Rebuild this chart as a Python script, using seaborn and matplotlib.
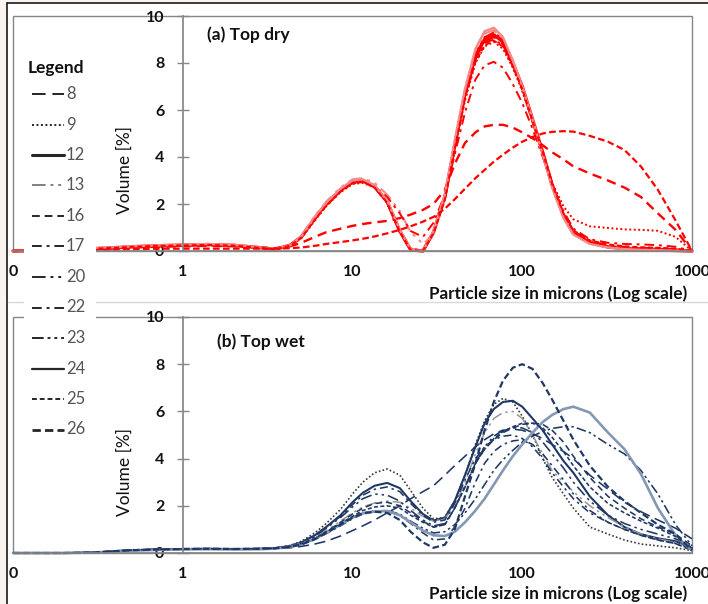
import numpy as np
import pandas as pd
import seaborn as sns
import matplotlib.pyplot as plt
from matplotlib.lines import Line2D
from matplotlib.patches import Rectangle
from matplotlib.ticker import FixedLocator, LogLocator, NullFormatter

# particle size grid (microns) shared by all curves
size_um = [0.1, 0.15, 0.2, 0.3, 0.4, 0.5, 0.7, 1, 1.4, 2,
           2.8, 3.5, 4.3, 5, 6, 7, 8.5, 10, 11.5, 13.5,
           16, 19, 22, 26, 30, 35, 40, 46, 53, 60,
           68, 77, 88, 100, 115, 132, 150, 175, 200, 250,
           320, 400, 500, 630, 800, 1000]

samples = ['8', '9', '12', '13', '16', '17', '20', '22', '23', '24', '25', '26']

# (a) Top dry - volume [%]
dry_8 = [0, 0.02, 0.05, 0.1, 0.15, 0.19, 0.23, 0.26, 0.28, 0.25,
         0.15, 0.07, 0.24, 0.58, 1.35, 1.95, 2.55, 2.9, 2.95, 2.7,
         2.05, 0.8, 0.05, 0, 0.75, 2.2, 4.4, 6.6, 8.2, 8.9,
         9.1, 8.8, 7.9, 6.9, 5.5, 4.1, 2.75, 1.5, 0.8, 0.4,
         0.22, 0.15, 0.12, 0.1, 0.07, 0]
dry_9 = [0, 0.02, 0.05, 0.1, 0.14, 0.17, 0.21, 0.24, 0.26, 0.23,
         0.14, 0.07, 0.22, 0.55, 1.3, 1.9, 2.5, 2.85, 2.9, 2.7,
         2.05, 0.85, 0.1, 0.02, 0.8, 2.2, 4.3, 6.4, 8.0, 8.7,
         8.9, 8.6, 7.8, 6.8, 5.5, 4.2, 2.9, 1.9, 1.35, 1.05,
         0.98, 0.92, 0.9, 0.86, 0.6, 0]
dry_12 = [0, 0.02, 0.05, 0.1, 0.14, 0.18, 0.22, 0.25, 0.27, 0.24,
          0.15, 0.07, 0.25, 0.6, 1.4, 2.0, 2.6, 2.95, 3.0, 2.75,
          2.1, 0.85, 0.05, 0, 0.8, 2.3, 4.5, 6.7, 8.3, 9.0,
          9.2, 8.9, 8.0, 7.0, 5.6, 4.2, 2.8, 1.5, 0.75, 0.35,
          0.17, 0.1, 0.06, 0.04, 0.02, 0]
dry_13 = [0, 0.03, 0.06, 0.12, 0.17, 0.21, 0.25, 0.28, 0.3, 0.27,
          0.17, 0.08, 0.26, 0.65, 1.5, 2.1, 2.7, 3.05, 3.1, 2.9,
          2.4, 1.7, 0.8, 0.3, 0.7, 2.2, 4.5, 6.8, 8.5, 9.25,
          9.4, 9.0, 8.1, 7.0, 5.6, 4.2, 2.8, 1.5, 0.8, 0.4,
          0.2, 0.12, 0.08, 0.05, 0.03, 0]
dry_16 = [0, 0.02, 0.04, 0.08, 0.12, 0.15, 0.18, 0.2, 0.22, 0.2,
          0.15, 0.12, 0.2, 0.35, 0.6, 0.8, 0.95, 1.07, 1.15, 1.22,
          1.28, 1.4, 1.55, 1.75, 2.0, 2.6, 3.7, 4.6, 5.05, 5.3,
          5.37, 5.37, 5.25, 5.05, 4.8, 4.5, 4.2, 3.9, 3.6, 3.3,
          3.0, 2.7, 2.3, 1.6, 0.9, 0]
dry_17 = [0, 0.02, 0.04, 0.08, 0.12, 0.16, 0.2, 0.23, 0.25, 0.22,
          0.14, 0.08, 0.25, 0.6, 1.35, 1.95, 2.55, 2.9, 2.95, 2.75,
          2.3, 1.6, 0.85, 0.6, 1.2, 2.4, 4.1, 5.9, 7.3, 7.9,
          8.05, 7.8, 7.1, 6.3, 5.2, 4.0, 2.8, 1.7, 0.95, 0.5,
          0.35, 0.3, 0.28, 0.25, 0.18, 0]
dry_20 = [0, 0.02, 0.05, 0.11, 0.15, 0.19, 0.23, 0.26, 0.28, 0.25,
          0.15, 0.07, 0.26, 0.62, 1.42, 2.02, 2.62, 2.97, 3.02, 2.78,
          2.12, 0.88, 0.06, 0, 0.82, 2.32, 4.55, 6.75, 8.35, 9.05,
          9.25, 8.95, 8.05, 7.0, 5.6, 4.2, 2.8, 1.5, 0.78, 0.38,
          0.2, 0.12, 0.08, 0.06, 0.04, 0]
dry_22 = [0, 0.02, 0.05, 0.1, 0.14, 0.18, 0.22, 0.25, 0.27, 0.24,
          0.15, 0.08, 0.24, 0.6, 1.38, 1.98, 2.58, 2.92, 2.98, 2.74,
          2.1, 0.9, 0.1, 0.02, 0.78, 2.25, 4.4, 6.6, 8.15, 8.85,
          9.0, 8.75, 7.9, 6.95, 5.6, 4.25, 2.9, 1.6, 0.85, 0.42,
          0.25, 0.18, 0.14, 0.12, 0.08, 0]
dry_23 = [0, 0.02, 0.05, 0.1, 0.15, 0.19, 0.23, 0.26, 0.28, 0.25,
          0.16, 0.08, 0.25, 0.62, 1.42, 2.0, 2.6, 2.96, 3.0, 2.76,
          2.1, 0.86, 0.06, 0, 0.8, 2.3, 4.55, 6.8, 8.4, 9.1,
          9.3, 9.0, 8.05, 7.0, 5.55, 4.15, 2.75, 1.45, 0.72, 0.33,
          0.16, 0.1, 0.06, 0.04, 0.02, 0]
dry_24 = [0, 0.02, 0.06, 0.12, 0.16, 0.2, 0.24, 0.27, 0.3, 0.26,
          0.16, 0.08, 0.25, 0.62, 1.45, 2.05, 2.65, 3.0, 3.05, 2.8,
          2.15, 0.9, 0.08, 0, 0.85, 2.4, 4.7, 6.9, 8.6, 9.35,
          9.5, 9.1, 8.1, 7.0, 5.6, 4.1, 2.7, 1.4, 0.7, 0.3,
          0.15, 0.08, 0.05, 0.03, 0.02, 0]
dry_25 = [0, 0.02, 0.05, 0.1, 0.14, 0.18, 0.22, 0.24, 0.26, 0.23,
          0.14, 0.07, 0.23, 0.57, 1.33, 1.92, 2.52, 2.88, 2.93, 2.7,
          2.05, 0.82, 0.05, 0, 0.76, 2.2, 4.35, 6.5, 8.05, 8.75,
          8.95, 8.7, 7.85, 6.9, 5.55, 4.2, 2.85, 1.6, 0.88, 0.45,
          0.28, 0.2, 0.16, 0.14, 0.1, 0]
dry_26 = [0, 0.01, 0.02, 0.04, 0.06, 0.08, 0.1, 0.1, 0.1, 0.1,
          0.1, 0.1, 0.12, 0.15, 0.22, 0.3, 0.38, 0.45, 0.52, 0.62,
          0.75, 0.9, 1.05, 1.25, 1.45, 1.8, 2.2, 2.65, 3.1, 3.45,
          3.8, 4.1, 4.4, 4.65, 4.85, 5.0, 5.07, 5.1, 5.08, 4.9,
          4.65, 4.3, 3.6, 2.6, 1.3, 0]

# (b) Top wet - volume [%]
wet_8 = [0, 0, 0, 0.02, 0.08, 0.12, 0.15, 0.17, 0.18, 0.17,
         0.17, 0.18, 0.22, 0.28, 0.38, 0.5, 0.72, 0.95, 1.15, 1.4,
         1.7, 2.0, 2.3, 2.6, 2.85, 3.3, 3.7, 4.1, 4.5, 4.8,
         5.05, 5.2, 5.25, 5.2, 5.05, 4.85, 4.6, 4.3, 4.0, 3.3,
         2.7, 2.15, 1.75, 1.4, 1.05, 0.6]
wet_9 = [0, 0, 0, 0.02, 0.08, 0.12, 0.15, 0.17, 0.18, 0.17,
         0.18, 0.22, 0.32, 0.5, 0.85, 1.25, 1.85, 2.5, 3.0, 3.4,
         3.56, 3.3, 2.65, 1.9, 1.45, 1.5, 2.2, 3.3, 4.6, 5.6,
         6.3, 6.55, 6.4, 5.8, 5.0, 4.0, 3.2, 2.5, 1.9, 1.1,
         0.8, 0.55, 0.38, 0.3, 0.22, 0.1]
wet_12 = [0, 0, 0, 0.02, 0.08, 0.12, 0.15, 0.17, 0.18, 0.17,
          0.18, 0.21, 0.3, 0.45, 0.75, 1.1, 1.6, 2.15, 2.55, 2.85,
          2.97, 2.75, 2.2, 1.65, 1.38, 1.5, 2.2, 3.3, 4.5, 5.5,
          6.1, 6.4, 6.45, 6.2, 5.7, 5.2, 4.6, 3.9, 3.4, 2.4,
          1.6, 1.1, 0.8, 0.62, 0.5, 0.2]
wet_13 = [0, 0, 0, 0.02, 0.08, 0.12, 0.15, 0.17, 0.18, 0.17,
          0.18, 0.21, 0.28, 0.4, 0.65, 0.95, 1.35, 1.7, 1.95, 2.12,
          2.2, 2.15, 1.9, 1.55, 1.35, 1.45, 2.0, 3.0, 4.2, 5.1,
          5.7, 5.95, 6.0, 5.7, 5.0, 4.2, 3.5, 3.0, 2.6, 2.0,
          1.5, 1.1, 0.8, 0.6, 0.45, 0.2]
wet_16 = [0, 0, 0, 0.02, 0.08, 0.12, 0.15, 0.17, 0.18, 0.17,
          0.18, 0.2, 0.27, 0.4, 0.62, 0.9, 1.3, 1.65, 1.9, 2.1,
          2.15, 2.0, 1.7, 1.35, 1.1, 1.2, 1.9, 2.8, 3.8, 4.4,
          4.8, 5.1, 5.3, 5.45, 5.5, 5.45, 5.2, 4.7, 4.1, 3.2,
          2.4, 1.9, 1.45, 1.1, 0.8, 0.3]
wet_17 = [0, 0, 0, 0.02, 0.08, 0.12, 0.15, 0.17, 0.18, 0.17,
          0.18, 0.21, 0.3, 0.45, 0.75, 1.1, 1.55, 2.05, 2.45, 2.7,
          2.8, 2.6, 2.1, 1.6, 1.3, 1.4, 2.1, 3.1, 4.0, 4.5,
          4.8, 4.95, 5.0, 4.85, 4.5, 4.0, 3.4, 2.8, 2.3, 1.7,
          1.3, 1.0, 0.75, 0.55, 0.4, 0.15]
wet_20 = [0, 0, 0, 0.02, 0.08, 0.12, 0.15, 0.17, 0.18, 0.17,
          0.18, 0.21, 0.28, 0.42, 0.7, 1.05, 1.5, 1.95, 2.3, 2.5,
          2.45, 2.2, 1.8, 1.4, 1.15, 1.25, 1.9, 2.8, 3.8, 4.5,
          4.95, 5.2, 5.3, 5.3, 5.1, 4.7, 4.2, 3.6, 3.0, 2.2,
          1.6, 1.25, 1.0, 0.8, 0.6, 0.25]
wet_22 = [0, 0, 0, 0.02, 0.08, 0.12, 0.15, 0.17, 0.18, 0.17,
          0.18, 0.2, 0.26, 0.36, 0.58, 0.82, 1.15, 1.45, 1.65, 1.75,
          1.78, 1.6, 1.25, 0.85, 0.55, 0.6, 1.1, 1.9, 3.0, 3.8,
          4.3, 4.6, 4.75, 4.8, 4.6, 4.2, 3.7, 3.1, 2.5, 1.8,
          1.3, 1.0, 0.75, 0.55, 0.4, 0.1]
wet_23 = [0, 0, 0, 0.02, 0.08, 0.12, 0.15, 0.17, 0.18, 0.17,
          0.18, 0.2, 0.27, 0.38, 0.6, 0.85, 1.2, 1.5, 1.7, 1.78,
          1.8, 1.65, 1.35, 1.05, 0.85, 0.9, 1.2, 1.7, 2.3, 2.9,
          3.5, 3.95, 4.35, 4.7, 4.95, 5.15, 5.28, 5.35, 5.35, 5.1,
          4.6, 4.2, 3.5, 2.5, 1.2, 0.3]
wet_24 = [0, 0, 0, 0.02, 0.07, 0.1, 0.13, 0.15, 0.16, 0.15,
          0.16, 0.19, 0.26, 0.38, 0.6, 0.85, 1.2, 1.5, 1.68, 1.76,
          1.78, 1.6, 1.3, 0.95, 0.75, 0.72, 0.9, 1.3, 1.8, 2.3,
          2.9, 3.5, 4.1, 4.6, 5.1, 5.55, 5.85, 6.1, 6.2, 5.95,
          5.1, 4.4, 3.35, 1.9, 0.75, 0.1]
wet_25 = [0, 0, 0, 0.02, 0.08, 0.12, 0.15, 0.17, 0.18, 0.17,
          0.18, 0.2, 0.27, 0.4, 0.62, 0.9, 1.25, 1.55, 1.8, 1.95,
          2.0, 1.9, 1.6, 1.3, 1.1, 1.2, 1.9, 2.8, 3.8, 4.4,
          4.85, 5.15, 5.35, 5.5, 5.5, 5.3, 4.9, 4.3, 3.7, 2.8,
          2.1, 1.7, 1.35, 1.05, 0.7, 0.2]
wet_26 = [0, 0, 0, 0.02, 0.08, 0.12, 0.15, 0.17, 0.18, 0.17,
          0.18, 0.2, 0.26, 0.36, 0.58, 0.85, 1.2, 1.5, 1.68, 1.75,
          1.7, 1.4, 0.9, 0.45, 0.22, 0.35, 1.0, 2.4, 3.8, 5.2,
          6.4, 7.3, 7.85, 8.0, 7.8, 7.2, 6.5, 5.6, 4.8, 3.7,
          2.8, 2.2, 1.7, 1.2, 0.8, 0.1]

x_ticks = [0.1, 1, 10, 100, 1000]
x_tick_labels = ['0', '1', '10', '100', '1000']
y_ticks = [0, 2, 4, 6, 8, 10]

dry = dict(zip(samples, [dry_8, dry_9, dry_12, dry_13, dry_16, dry_17,
                         dry_20, dry_22, dry_23, dry_24, dry_25, dry_26]))
wet = dict(zip(samples, [wet_8, wet_9, wet_12, wet_13, wet_16, wet_17,
                         wet_20, wet_22, wet_23, wet_24, wet_25, wet_26]))

# line styles (dash patterns scaled by linewidth)
dash_styles = {'8': (7, 3.5), '9': (1, 1.3), '12': '', '13': (7, 2.5, 1.5, 2.5, 1.5, 2.5),
               '16': (4, 2.5), '17': (5, 2.5, 1.5, 2.5), '20': (7, 2.5, 1.5, 2.5, 1.5, 2.5),
               '22': (5, 2.5, 1.5, 2.5), '23': (6, 2, 1.5, 2, 1.5, 2), '24': '',
               '25': (2.5, 1.5), '26': (3, 1.5)}

red, pink = '#FF0000', '#F48A8A'
navy, steel = '#1F3864', '#8497B4'
dry_colors = {s: red for s in samples}
dry_colors.update({'13': pink, '24': pink})
wet_colors = {s: navy for s in samples}
wet_colors.update({'9': '#3A3A3A', '13': '#9A9A9A', '24': steel})

dry_widths = {s: 1.4 for s in samples}
dry_widths.update({'12': 2.4, '24': 1.7, '13': 1.5, '16': 1.7, '26': 1.6})
wet_widths = {s: 1.15 for s in samples}
wet_widths.update({'12': 1.5, '24': 1.9, '26': 1.6, '9': 1.2})

sns.set_theme(style='white')
plt.rcParams['font.family'] = ['Lato', 'DejaVu Sans']

axis_grey = '#868686'
W, H = 708, 604
fig = plt.figure(figsize=(W / 100, H / 100), dpi=100)
fig.patch.set_facecolor('#FBF3EE')
fig.add_artist(Rectangle((7 / W, 0), 1, 1 - 3 / H, transform=fig.transFigure,
                         fc='white', ec='none', zorder=-5))
fig.add_artist(Line2D([7 / W, 7 / W], [0, 1 - 3 / H], transform=fig.transFigure,
                      color='#1a1a1a', lw=1.2, zorder=-4))
fig.add_artist(Line2D([7 / W, 1], [1 - 3 / H, 1 - 3 / H], transform=fig.transFigure,
                      color='#1a1a1a', lw=1.2, zorder=-4))
fig.add_artist(Line2D([8 / W, 1], [1 - 302 / H, 1 - 302 / H], transform=fig.transFigure,
                      color='#D9D9D9', lw=1, zorder=-4))

ax_top = fig.add_axes([13 / W, 1 - 251 / H, 679 / W, 235 / H])
ax_bot = fig.add_axes([13 / W, 1 - 553 / H, 679 / W, 236 / H])


def draw_panel(ax, curves, colors, widths, title, title_pos):
    ax.set_facecolor('none')
    ax.set_xscale('log')
    df = pd.DataFrame({
        'size': np.tile(size_um, len(samples)),
        'volume': np.concatenate([curves[s] for s in samples]),
        'sample': np.repeat(samples, len(size_um)),
    })
    sns.lineplot(data=df, x='size', y='volume', hue='sample', style='sample', size='sample',
                 palette=colors, dashes=dash_styles, sizes=widths, estimator=None,
                 legend=False, ax=ax, clip_on=False)
    ax.set_xlim(0.1, 1000)
    ax.set_ylim(0, 10)
    ax.set_xlabel('')
    ax.set_ylabel('')

    for side in ['top', 'right']:
        ax.spines[side].set_visible(False)
    ax.spines['left'].set_position(('data', 1))
    ax.spines['left'].set_color(axis_grey)
    ax.spines['bottom'].set_color(axis_grey)
    ax.add_patch(Rectangle((0, 0), 1, 1, transform=ax.transAxes, fill=False,
                           ec=axis_grey, lw=1, clip_on=False, zorder=0.5))

    ax.xaxis.set_major_locator(FixedLocator(x_ticks))
    ax.set_xticks(x_ticks, x_tick_labels)
    ax.xaxis.set_minor_locator(LogLocator(base=10, subs=np.arange(2, 10)))
    ax.xaxis.set_minor_formatter(NullFormatter())
    ax.set_yticks(y_ticks, [str(v) for v in y_ticks])
    ax.tick_params(axis='x', which='major', direction='inout', length=7.5, width=1,
                   color=axis_grey, pad=6, labelsize=11.5, labelcolor='#111111')
    ax.tick_params(axis='x', which='minor', direction='in', length=3.5, width=1, color=axis_grey)
    ax.tick_params(axis='y', which='major', direction='inout', length=8.5, width=1,
                   color=axis_grey, pad=9, labelsize=11.5, labelcolor='#111111', left=True)
    for lbl in ax.get_xticklabels() + ax.get_yticklabels():
        lbl.set_fontweight('bold')

    ax.text(title_pos[0], title_pos[1], title, transform=ax.transAxes, ha='left', va='center',
            fontsize=12.5, fontweight='bold', color='#111111')


draw_panel(ax_top, dry, dry_colors, dry_widths, '(a) Top dry', (0.286, 0.919))
draw_panel(ax_bot, wet, wet_colors, wet_widths, '(b) Top wet', (0.300, 0.894))

for yc in (170, 472):
    fig.text(125 / W, 1 - yc / H, 'Volume [%]', rotation=90, ha='center', va='center',
             fontsize=12.5, color='#111111')
for yc in (294, 594):
    fig.text(687 / W, 1 - yc / H, 'Particle size in microns (Log scale)', ha='right',
             va='center', fontsize=12.3, fontweight='bold', color='#111111')

# hand-drawn legend box on the left
legend_lw = {s: 1.4 for s in samples}
legend_lw.update({'12': 2.2, '26': 2.0, '24': 1.6})
fig.add_artist(Rectangle((24 / W, 1 - 442 / H), 72 / W, 386 / H, transform=fig.transFigure,
                         fc='white', ec='none', zorder=3))
fig.text(28 / W, 1 - 68 / H, 'Legend', ha='left', va='center', fontsize=12.5,
         fontweight='bold', color='#111111', zorder=4)
for i, s in enumerate(samples):
    yy = 1 - (94 + i * 30.5) / H
    ls = '-' if dash_styles[s] == '' else (0, dash_styles[s])
    col = '#808080' if s == '13' else '#262626'
    fig.add_artist(Line2D([32 / W, 64 / W], [yy, yy], transform=fig.transFigure, color=col,
                          lw=legend_lw[s], linestyle=ls, zorder=4))
    fig.text(66 / W, yy, s, ha='left', va='center', fontsize=12, color='#555555', zorder=4)

fig.savefig('out.png', dpi=100, facecolor=fig.get_facecolor())
